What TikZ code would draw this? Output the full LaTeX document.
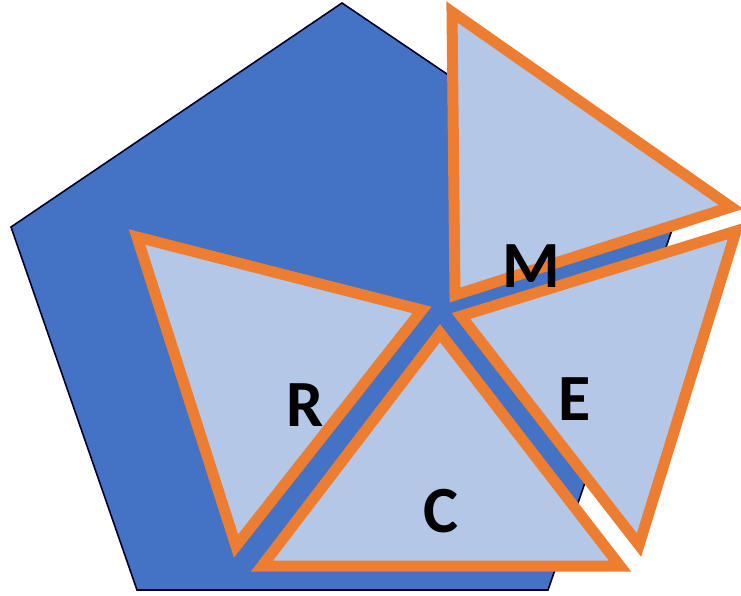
\documentclass[tikz,border=0pt]{standalone}
\usepackage{fontspec}
\setmainfont{Carlito}
\definecolor{pentblue}{HTML}{4472C4}
\definecolor{trifill}{HTML}{B4C7E7}
\definecolor{triedge}{HTML}{ED7D31}
\tikzset{
  pent/.style={fill=pentblue, draw=black!85!blue, line width=1.6pt, line join=miter},
  tri/.style={fill=trifill, draw=triedge, line width=11pt, line join=miter},
  lbl/.style={font=\fontsize{66}{70}\selectfont\bfseries, text=black, inner sep=0pt}
}
\begin{document}
\begin{tikzpicture}[x=1pt,y=-1pt]
\useasboundingbox (0,0) rectangle (741,595);
% pentagon
\draw[pent] (342,3) -- (673,227) -- (548,590) -- (137,590) -- (11,227) -- cycle;
% triangles
\draw[tri] (137,237) -- (422,310) -- (236,546) -- cycle;
\draw[tri] (440,333) -- (620,566) -- (262,566) -- cycle;
\draw[tri] (461,316) -- (736,231) -- (639,545) -- cycle;
\draw[tri] (452,12) -- (731,207) -- (455,295) -- cycle;
% labels
\node[lbl] (m) at (531,266) {M};
\node[lbl] (r) at (305,405) {R};
\node[lbl] (e) at (575,399) {E};
\node[lbl] (c) at (441,511) {C};
\end{tikzpicture}
\end{document}
